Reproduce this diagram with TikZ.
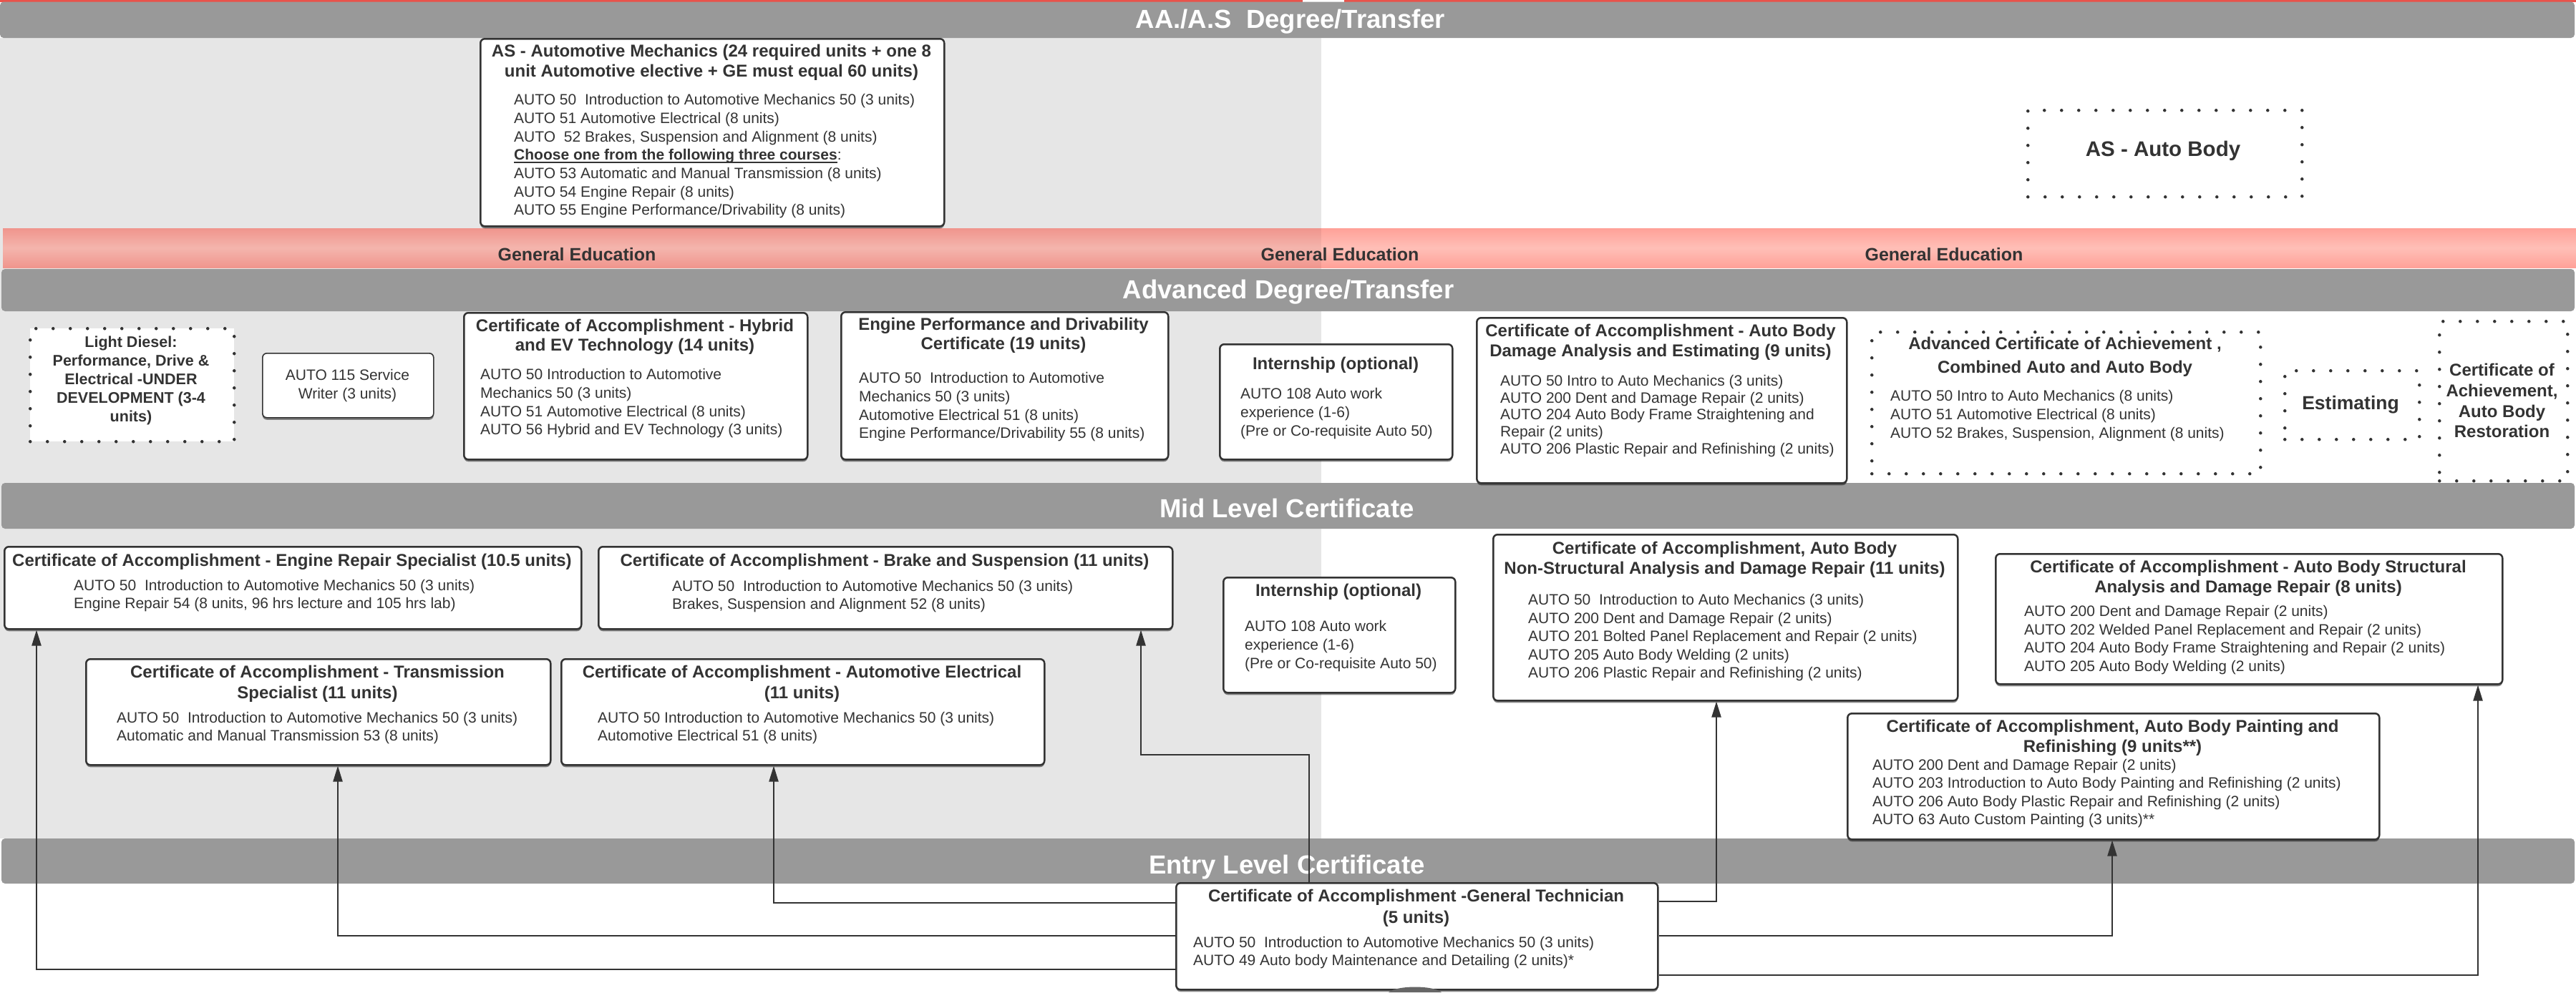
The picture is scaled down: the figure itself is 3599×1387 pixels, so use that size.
\documentclass[tikz,border=0pt]{standalone}
\usepackage{fontspec}
\setmainfont{Liberation Sans}
\usetikzlibrary{arrows.meta,shadows}
\definecolor{txt}{HTML}{333333}
\definecolor{bandc}{HTML}{999999}
\definecolor{lgray}{HTML}{E6E6E6}
\definecolor{redl}{HTML}{E9524A}
\definecolor{geLT}{HTML}{F0958D}
\definecolor{geLM}{HTML}{F4B5AD}
\definecolor{geRT}{HTML}{FFA198}
\definecolor{geRM}{HTML}{FFBFB7}
\newcommand\mkbox[6][cbox]{%
  \pgfmathsetmacro\mybw{#5-#3}%
  \pgfmathsetmacro\mybh{#6-#4}%
  \node[#1, minimum width=\mybw pt, minimum height=\mybh pt, anchor=north west] (#2) at (#3,#4) {};}
\newcommand\TT[5]{\node[ttl, anchor=north, font=\fontsize{24}{#4}\selectfont\bfseries] (#1) at (#2,#3) {#5};}
\newcommand\BB[5]{\node[bdy, anchor=north west, font=\fontsize{21}{#4}\selectfont] (#1) at (#2,#3) {#5};}
\newcommand\thickul[1]{\setbox0\hbox{#1}\rlap{\rule[-4.5pt]{\wd0}{2.2pt}}\box0}
\tikzset{
  cbox/.style={draw=txt, line width=2.5pt, rounded corners=6pt, fill=white, inner sep=0pt,
    drop shadow={shadow xshift=0pt, shadow yshift=-3pt, opacity=0.45, fill=black}},
  thinbox/.style={cbox, line width=1.6pt},
  dotbox/.style={draw=txt, line width=4.5pt, line cap=round, dash pattern=on 0pt off 24pt, fill=white, inner sep=0pt},
  ttl/.style={text=txt, align=center, inner sep=0pt, font=\fontsize{24}{28}\selectfont\bfseries},
  bdy/.style={text=txt, align=left, inner sep=0pt, font=\fontsize{21}{25.7}\selectfont},
  bandbar/.style={fill=bandc, rounded corners=5pt},
  bandtxt/.style={text=white, inner sep=0pt, anchor=base, font=\fontsize{36.5}{40}\selectfont\bfseries},
  getxt/.style={text=txt, inner sep=0pt, anchor=base, font=\fontsize{25}{30}\selectfont\bfseries},
  conn/.style={draw=txt, line width=2.2pt, -{Triangle[length=22pt,width=13pt]}},
}
\begin{document}
\begin{tikzpicture}[x=1pt,y=-1pt]
\useasboundingbox (0,0) rectangle (3599,1387);
\fill[white] (0,0) rectangle (3599,1387);
\fill[lgray] (0,53) rectangle (1846,1172);
% top red line
\fill[redl] (0,0) rectangle (1820,2.5);
\fill[redl] (1878,0) rectangle (3599,2.5);
% bands
\fill[bandbar] (0,2.5) rectangle (3597,53);
\shade[top color=geLT, bottom color=geLT, middle color=geLM] (4,319) rectangle (1846,374);
\shade[top color=geRT, bottom color=geRT, middle color=geRM] (1846,319) rectangle (3599,374);
\fill[bandbar] (2,376) rectangle (3597,435);
\fill[bandbar] (2,675) rectangle (3597,739);
\fill[bandbar] (2,1172) rectangle (3597,1235);
\node[bandtxt] (b1t) at (1803,39.5) {AA./A.S\ \ Degree/Transfer};
\node[bandtxt] (b2t) at (1800,417) {Advanced Degree/Transfer};
\node[bandtxt] (b3t) at (1798,723) {Mid Level Certificate};
\node[bandtxt] (b4t) at (1798,1221) {Entry Level Certificate};
\node[getxt] (ge1) at (806,364) {General Education};
\node[getxt] (ge2) at (1872,364) {General Education};
\node[getxt] (ge3) at (2716,364) {General Education};

% ---------- AS Automotive Mechanics
\mkbox{as}{670}{53}{1318}{315}
\TT{ast}{994}{61.8}{28}{AS - Automotive Mechanics (24 required units + one 8\\unit Automotive elective + GE must equal 60 units)}
\BB{asb}{718}{131.2}{25.7}{AUTO 50~ Introduction to Automotive Mechanics 50 (3 units)\\AUTO 51 Automotive Electrical (8 units)\\AUTO~ 52 Brakes, Suspension and Alignment (8 units)\\\thickul{\textbf{Choose one from the following three courses}}:\\AUTO 53 Automatic and Manual Transmission (8 units)\\AUTO 54 Engine Repair (8 units)\\AUTO 55 Engine Performance/Drivability (8 units)}

% ---------- AS Auto Body
\mkbox[dotbox]{ab}{2831}{152}{3214}{273}
\node[ttl, anchor=base, font=\fontsize{29.5}{34}\selectfont\bfseries] (abt) at (3022,218.6) {AS - Auto Body};

% ---------- Advanced row
\mkbox[dotbox]{ld}{40}{457}{325}{615}
\node[ttl, anchor=north, font=\fontsize{21.5}{26}\selectfont\bfseries] (ldt) at (183,470) {Light Diesel:\\Performance, Drive \&\\Electrical -UNDER\\DEVELOPMENT (3-4\\units)};

\mkbox[thinbox]{sw}{366}{493}{605}{583}
\node[bdy, align=center, anchor=north, font=\fontsize{21}{26}\selectfont] (swt) at (485.5,516.2) {AUTO 115 Service\\Writer (3 units)};

\mkbox{hy}{647}{436}{1127}{641}
\TT{hyt}{887}{446.1}{27}{Certificate of Accomplishment - Hybrid\\and EV Technology (14 units)}
\BB{hyb}{671}{515.2}{25.7}{AUTO 50 Introduction to Automotive\\Mechanics 50 (3 units)\\AUTO 51 Automotive Electrical (8 units)\\AUTO 56 Hybrid and EV Technology (3 units)}

\mkbox{ep}{1174}{435}{1631}{641}
\TT{ept}{1402}{444.1}{27}{Engine Performance and Drivability\\Certificate (19 units)}
\BB{epb}{1200}{520.2}{25.7}{AUTO 50~ Introduction to Automotive\\Mechanics 50 (3 units)\\Automotive Electrical 51 (8 units)\\Engine Performance/Drivability 55 (8 units)}

\mkbox{ia}{1703}{480}{2028}{641}
\node[ttl, anchor=base] (iat) at (1866,516.6) {Internship (optional)};
\BB{iab}{1733}{542.2}{26}{AUTO 108 Auto work\\experience (1-6)\\(Pre or Co-requisite Auto 50)}

\mkbox{ad}{2062}{443}{2579}{674}
\TT{adt}{2320}{453.1}{28}{Certificate of Accomplishment - Auto Body\\Damage Analysis and Estimating (9 units)}
\BB{adb}{2096}{524.2}{23.6}{AUTO 50 Intro to Auto Mechanics (3 units)\\AUTO 200 Dent and Damage Repair (2 units)\\AUTO 204 Auto Body Frame Straightening and\\Repair (2 units)\\AUTO 206 Plastic Repair and Refinishing (2 units)}

\mkbox[dotbox]{ac}{2613}{462}{3156}{660}
\TT{act}{2885}{471.1}{33}{Advanced Certificate of Achievement ,\\Combined Auto and Auto Body}
\BB{acb}{2641}{545.2}{26}{AUTO 50 Intro to Auto Mechanics (8 units)\\AUTO 51 Automotive Electrical (8 units)\\AUTO 52 Brakes, Suspension, Alignment (8 units)}

\mkbox[dotbox]{es}{3190}{516}{3378}{612}
\node[ttl, anchor=base, font=\fontsize{26.5}{30}\selectfont\bfseries] (est) at (3284,572.5) {Estimating};

\mkbox[dotbox]{re}{3406}{447}{3585}{670}
\TT{ret}{3495.5}{508.1}{28.7}{Certificate of\\Achievement,\\Auto Body\\Restoration}

% ---------- Mid level
\mkbox{er}{5}{763}{811}{878}
\node[ttl, anchor=base] (ert) at (408,791.6) {Certificate of Accomplishment - Engine Repair Specialist (10.5 units)};
\BB{erb}{103}{810.2}{25}{AUTO 50~ Introduction to Automotive Mechanics 50 (3 units)\\Engine Repair 54 (8 units, 96 hrs lecture and 105 hrs lab)}

\mkbox{br}{835}{763}{1637}{878}
\node[ttl, anchor=base] (brt) at (1236,791.6) {Certificate of Accomplishment - Brake and Suspension (11 units)};
\BB{brb}{939}{811.2}{25}{AUTO 50~ Introduction to Automotive Mechanics 50 (3 units)\\Brakes, Suspension and Alignment 52 (8 units)}

\mkbox{tr}{119}{920}{768}{1068}
\TT{trt}{443.5}{930.1}{29}{Certificate of Accomplishment - Transmission\\Specialist (11 units)}
\BB{trb}{163}{995.2}{25}{AUTO 50~ Introduction to Automotive Mechanics 50 (3 units)\\Automatic and Manual Transmission 53 (8 units)}

\mkbox{el}{783}{920}{1458}{1068}
\TT{elt}{1120.5}{930.1}{29}{Certificate of Accomplishment - Automotive Electrical\\(11 units)}
\BB{elb}{835}{995.2}{24.5}{AUTO 50 Introduction to Automotive Mechanics 50 (3 units)\\Automotive Electrical 51 (8 units)}

\mkbox{im}{1708}{806}{2032}{967}
\node[ttl, anchor=base] (imt) at (1870,833.6) {Internship (optional)};
\BB{imb}{1739}{867.2}{26}{AUTO 108 Auto work\\experience (1-6)\\(Pre or Co-requisite Auto 50)}

\mkbox{ns}{2085}{746}{2734}{978}
\TT{nst}{2409.5}{757.1}{28}{Certificate of Accomplishment, Auto Body\\Non-Structural Analysis and Damage Repair (11 units)}
\BB{nsb}{2135}{830.2}{25.5}{AUTO 50~ Introduction to Auto Mechanics (3 units)\\AUTO 200 Dent and Damage Repair (2 units)\\AUTO 201 Bolted Panel Replacement and Repair (2 units)\\AUTO 205 Auto Body Welding (2 units)\\AUTO 206 Plastic Repair and Refinishing (2 units)}

\mkbox{st}{2787}{773}{3495}{955}
\TT{stt}{3141}{783.1}{28}{Certificate of Accomplishment - Auto Body Structural\\Analysis and Damage Repair (8 units)}
\BB{stb}{2828}{846.2}{25.6}{AUTO 200 Dent and Damage Repair (2 units)\\AUTO 202 Welded Panel Replacement and Repair (2 units)\\AUTO 204 Auto Body Frame Straightening and Repair (2 units)\\AUTO 205 Auto Body Welding (2 units)}

\mkbox{pa}{2580}{996}{3323}{1172}
\TT{pat}{2951.5}{1006.1}{28}{Certificate of Accomplishment, Auto Body Painting and\\Refinishing (9 units**)}
\BB{pab}{2616}{1061.2}{25.3}{AUTO 200 Dent and Damage Repair (2 units)\\AUTO 203 Introduction to Auto Body Painting and Refinishing (2 units)\\AUTO 206 Auto Body Plastic Repair and Refinishing (2 units)\\AUTO 63 Auto Custom Painting (3 units)**}

% ---------- Entry level
\mkbox{gt}{1642}{1233}{2315}{1382}
\TT{gtt}{1978.5}{1243.1}{30}{Certificate of Accomplishment -General Technician\\(5 units)}
\BB{gtb}{1667}{1309.2}{25}{AUTO 50~ Introduction to Automotive Mechanics 50 (3 units)\\AUTO 49 Auto body Maintenance and Detailing (2 units)*}

% ---------- connectors
\draw[conn] (gt.west |- 0,1262) -| (el.south -| 1081,0);
\draw[conn] (gt.west |- 0,1308) -| (tr.south -| 472,0);
\draw[conn] (gt.west |- 0,1355) -| (er.south -| 51,0);
\draw[conn] (gt.north -| 1829,0) |- (1594,1055) -- (br.south -| 1594,0);
\draw[conn] (gt.east |- 0,1260) -| (ns.south -| 2398,0);
\draw[conn] (gt.east |- 0,1308) -| (pa.south -| 2951,0);
\draw[conn] (gt.east |- 0,1363) -| (st.south -| 3462,0);

% partial shape at bottom edge
\fill[black!60] (1940,1387) .. controls (1952,1377) and (2002,1377) .. (2014,1387) -- cycle;
\end{tikzpicture}
\end{document}
